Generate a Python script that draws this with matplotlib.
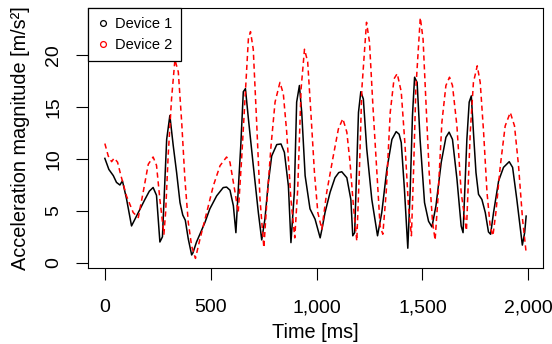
import matplotlib
matplotlib.use("Agg")
import matplotlib.pyplot as plt
from matplotlib.lines import Line2D
import numpy as np

plt.rcParams['font.family'] = ['Liberation Sans', 'DejaVu Sans']

# Device 1 (black, solid) - time [ms], magnitude [m/s^2]
t1 = [0, 19, 40, 55, 71, 83, 102, 126, 158, 189, 210, 228, 244, 260, 272, 292, 307,
      323, 339, 355, 368, 380, 394, 410, 416, 433, 450, 473, 496, 528, 559, 575, 591,
      607, 619, 630, 642, 654, 664, 678, 701, 725, 741, 756, 772, 788, 812, 832, 848,
      867, 879, 895, 906, 919, 930, 946, 969, 993, 1017, 1028, 1040, 1064, 1087, 1105,
      1119, 1143, 1162, 1171, 1180, 1198, 1209, 1221, 1237, 1261, 1288, 1308, 1332,
      1356, 1376, 1390, 1400, 1415, 1431, 1442, 1453, 1463, 1475, 1489, 1510, 1529,
      1545, 1564, 1589, 1611, 1626, 1642, 1663, 1683, 1692, 1710, 1721, 1731, 1741,
      1753, 1765, 1781, 1797, 1812, 1822, 1836, 1860, 1883, 1910, 1926, 1946, 1972,
      1983, 1990]
v1 = [10.07, 9.0, 8.4, 7.75, 7.5, 7.9, 6.2, 3.55, 4.84, 6.1, 6.9, 7.26, 6.5, 2.0, 2.5,
      11.9, 14.2, 11.3, 8.7, 5.8, 4.6, 4.1, 2.3, 0.75, 0.95, 2.0, 2.8, 3.9, 5.2, 6.45,
      7.25, 7.3, 7.0, 5.5, 2.9, 7.0, 11.3, 16.5, 16.8, 13.9, 9.4, 4.84, 2.2, 4.2, 7.7,
      10.3, 11.4, 11.46, 10.65, 7.4, 1.94, 6.8, 15.5, 17.1, 14.5, 8.4, 5.2, 4.2, 2.4,
      3.5, 4.84, 6.8, 8.2, 8.7, 8.78, 8.2, 6.1, 2.6, 2.9, 14.5, 16.5, 15.8, 11.0, 6.1,
      2.6, 4.84, 9.0, 11.9, 12.65, 12.4, 11.6, 7.1, 1.4, 6.8, 14.2, 17.9, 17.4, 11.9,
      5.8, 4.0, 3.45, 5.5, 9.7, 12.1, 12.6, 11.9, 8.1, 3.55, 2.9, 11.9, 15.5, 16.1,
      12.6, 8.7, 6.6, 6.1, 4.84, 2.97, 2.75, 4.84, 7.9, 9.2, 9.75, 9.2, 6.1, 1.7, 2.9,
      4.5]

# Device 2 (red, dashed)
t2 = [0, 16, 32, 44, 60, 76, 102, 134, 158, 181, 205, 228, 244, 260, 279, 287, 299,
      315, 331, 347, 363, 378, 394, 410, 428, 449, 481, 512, 544, 575, 591, 615, 630,
      646, 662, 678, 688, 701, 717, 733, 751, 764, 785, 804, 827, 843, 859, 879, 897,
      911, 927, 943, 958, 974, 990, 1006, 1025, 1048, 1079, 1103, 1124, 1143, 1158,
      1174, 1190, 1202, 1214, 1236, 1250, 1266, 1285, 1300, 1313, 1329, 1348, 1366,
      1381, 1400, 1418, 1434, 1448, 1458, 1469, 1490, 1503, 1516, 1532, 1548, 1560,
      1573, 1592, 1611, 1628, 1642, 1663, 1683, 1708, 1726, 1741, 1759, 1773, 1789,
      1805, 1820, 1833, 1847, 1868, 1891, 1915, 1935, 1954, 1973, 1990]
v2 = [11.5, 10.3, 9.75, 10.1, 9.7, 8.4, 6.45, 4.84, 4.36, 6.8, 9.5, 10.2, 9.4, 6.1,
      2.75, 4.84, 10.3, 15.8, 19.6, 18.4, 13.55, 8.1, 3.9, 1.6, 0.42, 2.26, 4.84, 7.4,
      9.36, 10.2, 9.7, 6.8, 4.84, 10.0, 15.8, 21.6, 22.3, 20.6, 13.55, 6.1, 1.45, 5.5,
      11.3, 15.5, 17.4, 16.3, 12.6, 6.1, 2.4, 7.1, 16.8, 20.6, 19.4, 14.2, 8.7, 4.84,
      3.23, 6.8, 10.3, 12.9, 13.9, 12.6, 9.7, 5.5, 2.1, 8.7, 16.8, 23.2, 21.3, 15.2,
      8.7, 3.55, 2.75, 6.8, 14.5, 17.75, 18.25, 16.5, 11.3, 5.5, 2.6, 8.7, 16.8, 23.65,
      21.6, 15.8, 8.7, 3.9, 2.2, 6.1, 13.55, 17.1, 17.9, 17.1, 13.2, 6.8, 3.1, 12.6,
      17.4, 19.0, 17.4, 12.6, 6.8, 3.55, 2.6, 4.84, 9.36, 13.2, 14.5, 13.2, 9.36, 4.2,
      0.97]

xticks = [0, 500, 1000, 1500, 2000]
xticklabels = ['0', '500', '1,000', '1,500', '2,000']
yticks = [0, 5, 10, 15, 20]
series_labels = ['Device 1', 'Device 2']

fig = plt.figure(figsize=(5.52, 3.44), dpi=100)
ax = fig.add_axes([88 / 552, 1 - 268 / 344, 455 / 552, 260 / 344])

ax.plot(t1, v1, color='black', lw=1.1)
ax.plot(t2, v2, color='red', lw=1.1, linestyle=(0, (3.4, 2.4)))

# R-style 4% padding
allx = np.array(t1 + t2)
ally = np.array(v1 + v2)
dx = 0.04 * (allx.max() - allx.min())
dy = 0.04 * (ally.max() - ally.min())
ax.set_xlim(allx.min() - dx, allx.max() + dx)
ax.set_ylim(ally.min() - dy, ally.max() + dy)

ax.set_xticks(xticks)
ax.set_xticklabels(xticklabels)
ax.set_yticks(yticks)
ax.set_yticklabels([str(y) for y in yticks], rotation=90, va='center')
ax.tick_params(axis='both', direction='out', length=8.5, width=0.8,
               labelsize=14, colors='black')
ax.tick_params(axis='x', pad=14)
ax.tick_params(axis='y', pad=10)
for s in ax.spines.values():
    s.set_linewidth(0.8)

ax.set_xlabel('Time [ms]', fontsize=14.3)
ax.set_ylabel('Acceleration magnitude [m/s²]', fontsize=14.3)
ax.xaxis.set_label_coords(0.5, (268 - 333) / 260)
ax.xaxis.label.set_va('center')
ax.yaxis.set_label_coords((21 - 88) / 455, 0.5)
ax.yaxis.label.set_va('center')

handles = [Line2D([], [], marker='o', linestyle='none', markersize=4.2,
                  markerfacecolor='none', markeredgecolor=c, markeredgewidth=0.9)
           for c in ['black', 'red']]
leg = ax.legend(handles, series_labels, loc='upper left', borderaxespad=0,
                fontsize=10.5, frameon=True, fancybox=False, framealpha=1,
                edgecolor='black', handlelength=0.8, handletextpad=0.45,
                labelspacing=0.5, borderpad=0.6)
leg.get_frame().set_linewidth(0.9)

fig.savefig('out.png', dpi=100)
